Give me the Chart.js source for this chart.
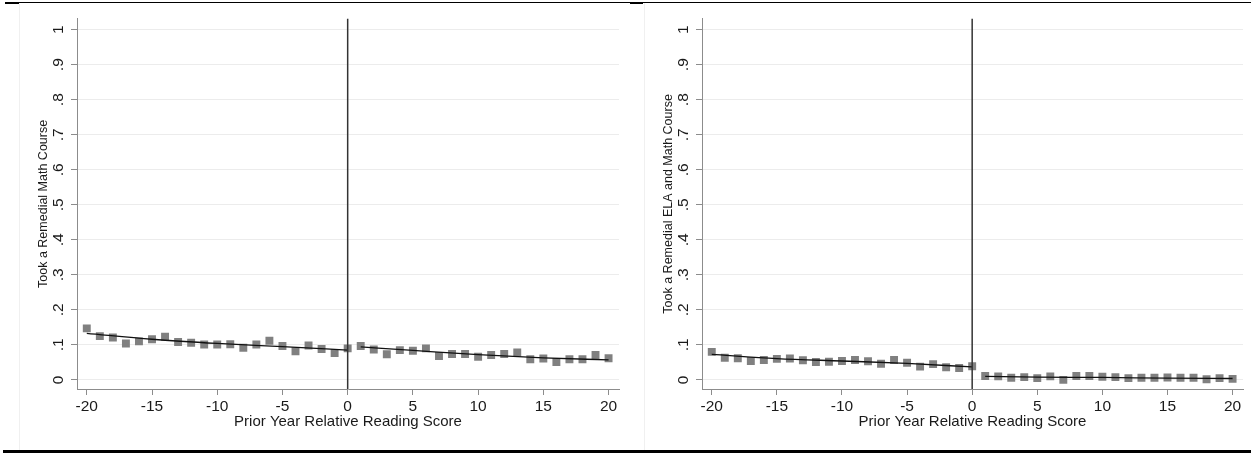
<!DOCTYPE html>
<html>
<head>
<meta charset="utf-8">
<script src="https://cdn.jsdelivr.net/npm/chart.js@4.4.1/dist/chart.umd.min.js"></script>
<style>
  html, body { margin: 0; padding: 0; background: #fff; }
  body { width: 1251px; height: 454px; position: relative; overflow: hidden; }
  .rule { position: absolute; background: #000; }
  .cell { position: absolute; top: 4px; height: 445px; }
  .sep { position: absolute; top: 3px; height: 447px; width: 1px; background: #f0f0f0; }
</style>
</head>
<body>
  <div class="rule" style="left:5px; top:2px; width:1246px; height:1px;"></div>
  <div class="rule" style="left:5px; top:2px; width:14px; height:2px;"></div>
  <div class="rule" style="left:630px; top:2px; width:13px; height:2px;"></div>
  <div class="rule" style="left:3px; top:450px; width:1248px; height:3px;"></div>
  <div class="sep" style="left:19px;"></div>
  <div class="sep" style="left:644px;"></div>

  <div class="cell" style="left:20px; width:623px;"><canvas id="mathChart" width="623" height="445"></canvas></div>
  <div class="cell" style="left:645px; width:606px;"><canvas id="bothChart" width="606" height="445"></canvas></div>

<script>
// relative reading score bins
const scoreBins = [-20, -19, -18, -17, -16, -15, -14, -13, -12, -11, -10, -9, -8, -7, -6, -5, -4, -3, -2, -1, 0,
  1, 2, 3, 4, 5, 6, 7, 8, 9, 10, 11, 12, 13, 14, 15, 16, 17, 18, 19, 20];

// share taking a remedial math course, per bin
const mathShare = [0.147, 0.125, 0.121, 0.104, 0.110, 0.116, 0.123, 0.108, 0.106, 0.101, 0.101, 0.102, 0.092, 0.101, 0.112, 0.097, 0.082, 0.098, 0.088, 0.077, 0.090,
  0.097, 0.087, 0.073, 0.085, 0.083, 0.090, 0.068, 0.074, 0.074, 0.066, 0.071, 0.074, 0.078, 0.059, 0.061, 0.051, 0.059, 0.059, 0.071, 0.062];

// share taking both remedial ELA and math, per bin
const bothShare = [0.080, 0.063, 0.062, 0.054, 0.057, 0.060, 0.061, 0.056, 0.051, 0.052, 0.054, 0.057, 0.053, 0.046, 0.057, 0.049, 0.038, 0.045, 0.036, 0.034, 0.039,
  0.011, 0.010, 0.006, 0.008, 0.005, 0.010, 0.000, 0.011, 0.011, 0.009, 0.008, 0.005, 0.006, 0.006, 0.007, 0.006, 0.006, 0.002, 0.005, 0.003];

// fitted lines on each side of the cutoff
const fitBelowX = [-20, -15, -10, -5, 0];
const fitAboveX = [1, 5, 10, 15, 20];
const mathFitBelow = [0.133, 0.116, 0.104, 0.095, 0.085];
const mathFitAbove = [0.094, 0.084, 0.072, 0.063, 0.057];
const bothFitBelow = [0.073, 0.061, 0.054, 0.047, 0.037];
const bothFitAbove = [0.010, 0.008, 0.007, 0.005, 0.004];

const cutoff = 0;
const yTicks = [0, 0.1, 0.2, 0.3, 0.4, 0.5, 0.6, 0.7, 0.8, 0.9, 1];

const FONT = "'Liberation Sans', Arial, sans-serif";
const AXIS_GRAY = '#8c8c8c';
const TEXT = '#1a1a1a';

const toPoints = (xs, ys) => xs.map((x, i) => ({ x: x, y: ys[i] }));

const yLabel = (v) => {
    if (v === 0) return '0';
    if (Math.abs(v - 1) < 1e-9) return '1';
    return v.toFixed(1).replace(/^0/, '');
};

// vertical line at the cutoff
const cutoffLine = {
    id: 'cutoffLine',
    afterDatasetsDraw(chart) {
        const { ctx, chartArea, scales } = chart;
        const x = scales.x.getPixelForValue(cutoff);
        ctx.save();
        ctx.strokeStyle = '#333';
        ctx.lineWidth = 1.5;
        ctx.beginPath();
        ctx.moveTo(x, chartArea.top);
        ctx.lineTo(x, chartArea.bottom);
        ctx.stroke();
        ctx.restore();
    }
};

function fitLine(data) {
    return {
        type: 'line',
        data: data,
        borderColor: '#111',
        borderWidth: 1.3,
        pointRadius: 0,
        showLine: true,
        fill: false,
        cubicInterpolationMode: 'monotone',
    };
}

function drawPanel(canvasId, shares, fitBelow, fitAbove, yTitle, rightPad) {
    const ctx = document.getElementById(canvasId).getContext('2d');
    return new Chart(ctx, {
        type: 'scatter',
        data: {
            datasets: [
                fitLine(toPoints(fitBelowX, fitBelow)),
                fitLine(toPoints(fitAboveX, fitAbove)),
                {
                    data: toPoints(scoreBins, shares),
                    pointStyle: 'rect',
                    pointRadius: 5.6,
                    pointBorderWidth: 0,
                    backgroundColor: '#808080',
                    borderColor: '#808080',
                },
            ],
        },
        options: {
            responsive: false,
            animation: false,
            events: [],
            layout: { padding: { top: 14, right: rightPad, bottom: 0, left: 0 } },
            plugins: { legend: { display: false }, tooltip: { enabled: false } },
            scales: {
                x: {
                    type: 'linear',
                    min: -20.75,
                    max: 20.8,
                    ticks: {
                        stepSize: 5,
                        includeBounds: false,
                        autoSkip: false,
                        maxRotation: 0,
                        padding: 2,
                        color: TEXT,
                        font: { family: FONT, size: 15.5 },
                    },
                    grid: { drawOnChartArea: false, tickLength: 6, tickColor: AXIS_GRAY },
                    border: { color: AXIS_GRAY, width: 1 },
                    title: {
                        display: true,
                        text: 'Prior Year Relative Reading Score',
                        color: TEXT,
                        font: { family: FONT, size: 15 },
                        padding: { top: 0, bottom: 18 },
                    },
                    afterFit: (s) => { s.height = 60; },
                },
                y: {
                    type: 'linear',
                    min: -0.026,
                    max: 1.031,
                    afterBuildTicks: (s) => { s.ticks = yTicks.map((v) => ({ value: v })); },
                    ticks: {
                        autoSkip: false,
                        minRotation: 90,
                        maxRotation: 90,
                        crossAlign: 'center',
                        padding: 5.5,
                        color: TEXT,
                        font: { family: FONT, size: 15.5 },
                        callback: (v) => yLabel(v),
                    },
                    grid: { color: '#ececec', lineWidth: 1, tickLength: 6, tickColor: AXIS_GRAY },
                    border: { color: AXIS_GRAY, width: 1 },
                    title: {
                        display: true,
                        text: yTitle,
                        color: TEXT,
                        font: { family: FONT, size: 12.5 },
                        padding: { top: 16.5, bottom: 0 },
                    },
                    afterFit: (s) => { s.width = 57; },
                },
            },
        },
        plugins: [cutoffLine],
    });
}

drawPanel('mathChart', mathShare, mathFitBelow, mathFitAbove, 'Took a Remedial Math Course', 24);
drawPanel('bothChart', bothShare, bothFitBelow, bothFitAbove, 'Took a Remedial ELA and Math Course', 8);
</script>
</body>
</html>
